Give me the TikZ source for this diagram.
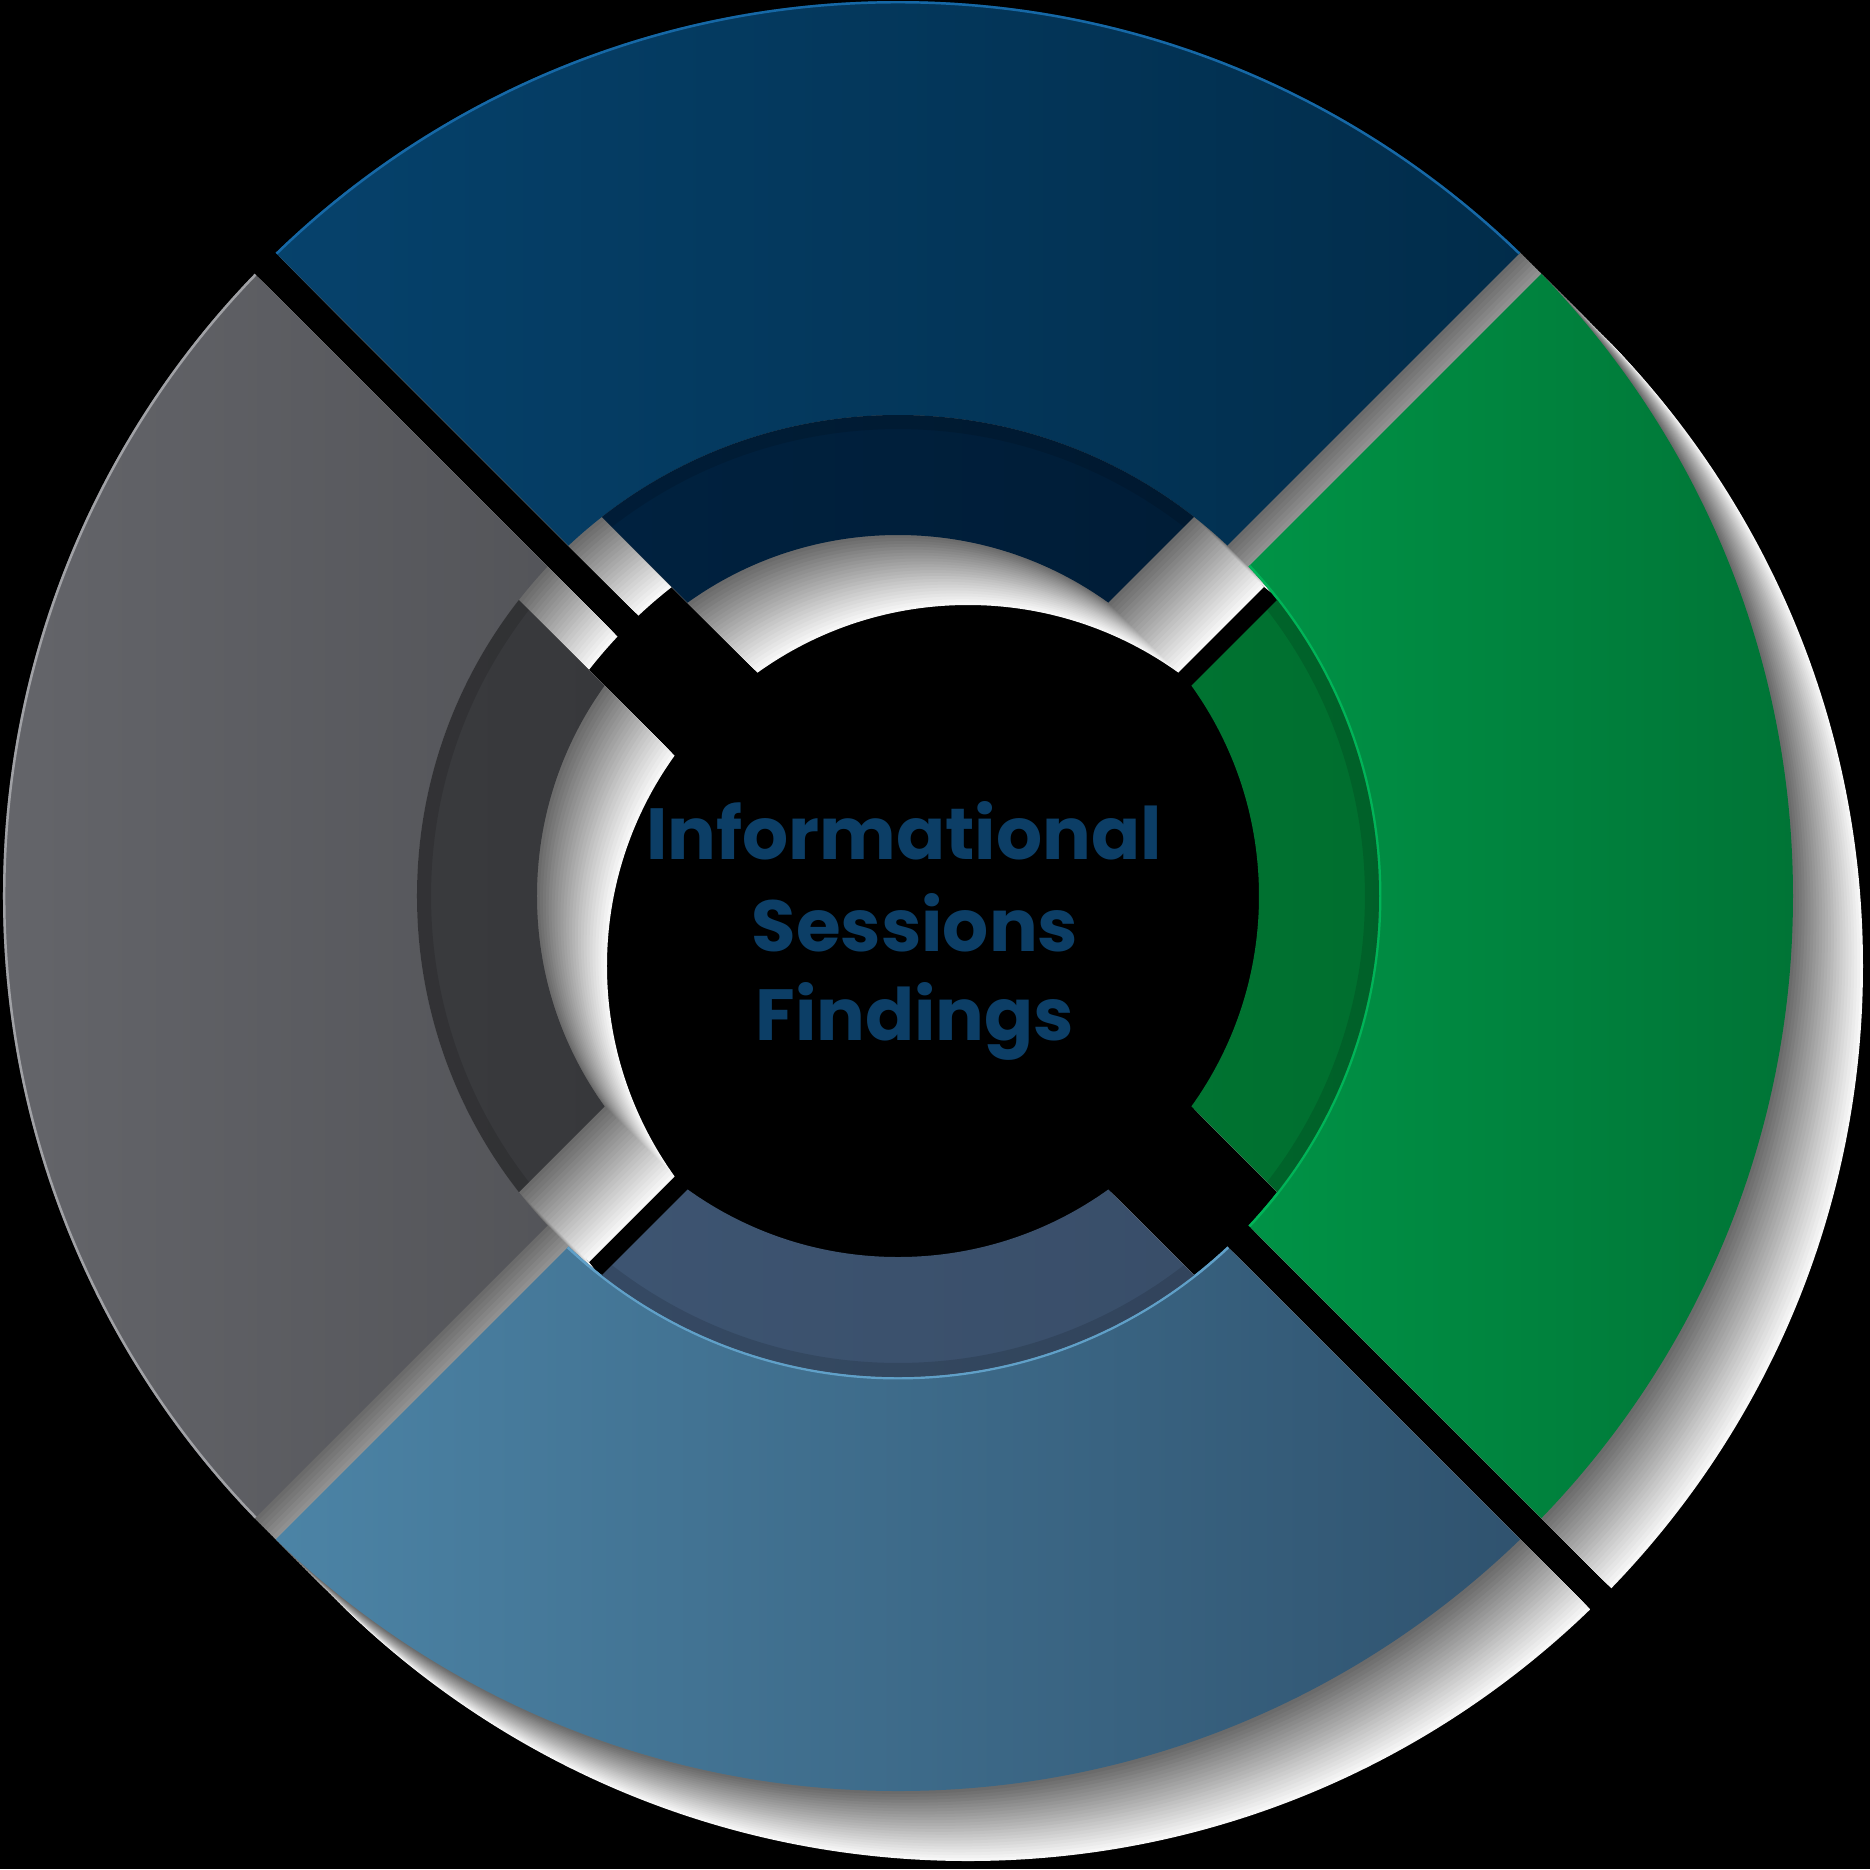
\documentclass[tikz,border=0pt]{standalone}
\usepackage{fontspec}
\newfontfamily\labelfont{Poppins}

\definecolor{blueL}{RGB}{6,66,108}
\definecolor{blueR}{RGB}{1,44,74}
\definecolor{blueInL}{RGB}{0,36,68}
\definecolor{blueInR}{RGB}{0,26,50}
\definecolor{blueRim}{RGB}{22,104,166}
\definecolor{greenL}{RGB}{0,166,80}
\definecolor{greenR}{RGB}{0,116,54}
\definecolor{greenInL}{RGB}{0,122,52}
\definecolor{greenInR}{RGB}{0,100,42}
\definecolor{greenRim}{RGB}{0,180,88}
\definecolor{steelL}{RGB}{76,132,166}
\definecolor{steelR}{RGB}{47,82,110}
\definecolor{steelInL}{RGB}{64,88,118}
\definecolor{steelInR}{RGB}{54,74,100}
\definecolor{steelRim}{RGB}{96,160,200}
\definecolor{grayL}{RGB}{100,101,106}
\definecolor{grayR}{RGB}{74,75,79}
\definecolor{grayInL}{RGB}{62,63,66}
\definecolor{grayInR}{RGB}{52,53,56}
\definecolor{grayRim}{RGB}{160,161,165}
\definecolor{titleblue}{RGB}{12,62,102}

\tikzset{
  label text/.style={text=titleblue, inner sep=0pt, anchor=base,
    font=\labelfont\bfseries\fontsize{20.6}{25}\selectfont}
}

\begin{document}
\begin{tikzpicture}
  \path[fill=black, use as bounding box] (-8.98,-9.73) rectangle (9.72,8.96);
  % extruded sides, far copies first
  \foreach \k in {24,...,1} {
    \pgfmathsetmacro{\shd}{3+55*(1-(\k-1)/23)}
    \begin{scope}[shift={({0.7*\k/24},{-0.7*\k/24})}]
      \foreach \a in {0,90,180,270} {
        \begin{scope}
          \clip ({90+\a}:0.21) -- ++({135+\a}:15) -- ++({\a}:21.21) -- cycle;
          \fill[black!\shd, even odd rule] (0,0) circle (8.95) circle (4.81);
        \end{scope}
        \begin{scope}
          \clip ({90+\a}:0.83) -- ++({135+\a}:15) -- ++({\a}:21.21) -- cycle;
          \fill[black!\shd, even odd rule] (0,0) circle (4.81) circle (3.61);
        \end{scope}
      }
    \end{scope}
  }
  % the four segments
  \foreach \a/\xa/\xb/\lc/\rc/\il/\ir/\rk/\rr in {
      0/-6.35/6.35/blueL/blueR/blueInL/blueInR/blueRim/8.95,
      270/0.15/8.95/greenL/greenR/greenInL/greenInR/greenRim/4.81,
      180/-6.35/6.35/steelL/steelR/steelInL/steelInR/steelRim/4.81,
      90/-8.95/-0.15/grayL/grayR/grayInL/grayInR/grayRim/8.95} {
    \begin{scope}[even odd rule]
      \clip ({90+\a}:0.21) -- ++({135+\a}:15) -- ++({\a}:21.21) -- cycle;
      \clip (0,0) circle (8.95) circle (4.81);
      \shade[left color=\lc, right color=\rc] (\xa,-9) rectangle (\xb,9);
      \draw[\rk, line width=1.4pt] (0,0) circle (\rr);
    \end{scope}
    \begin{scope}[even odd rule]
      \clip ({90+\a}:0.83) -- ++({135+\a}:15) -- ++({\a}:21.21) -- cycle;
      \clip (0,0) circle (4.81) circle (3.61);
      \shade[left color=\il, right color=\ir] (\xa,-9) rectangle (\xb,9);
      \draw[black, opacity=0.12, line width=8pt] (0,0) circle (4.81);
    \end{scope}
  }
  \node[label text] (info) at (0.06,0.37) {Informational};
  \node[label text] (sess) at (0.17,-0.55) {Sessions};
  \node[label text] (find) at (0.17,-1.44) {Findings};
\end{tikzpicture}
\end{document}
